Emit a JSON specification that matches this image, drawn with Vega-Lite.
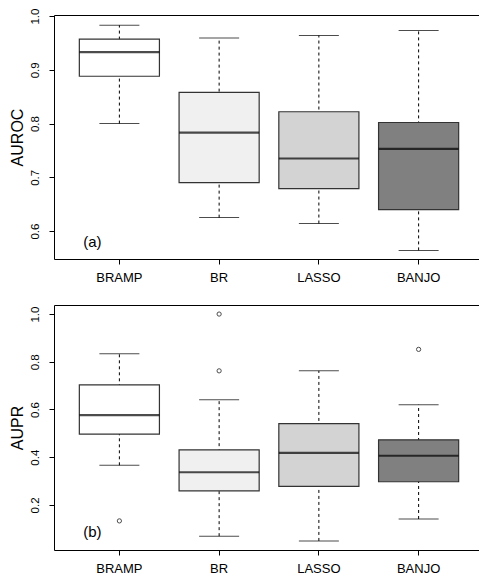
{
  "$schema": "https://vega.github.io/schema/vega-lite/v6.json",
  "padding": {"left": 8, "top": 7, "right": 0, "bottom": 0},
  "background": "white",
  "spacing": 46,
  "bounds": "flush",
  "datasets": {
    "auroc": [
      {"method": "BRAMP", "lower": 0.800, "q1": 0.888, "median": 0.933, "q3": 0.957, "upper": 0.983},
      {"method": "BR", "lower": 0.625, "q1": 0.690, "median": 0.783, "q3": 0.858, "upper": 0.959},
      {"method": "LASSO", "lower": 0.614, "q1": 0.679, "median": 0.735, "q3": 0.822, "upper": 0.964},
      {"method": "BANJO", "lower": 0.564, "q1": 0.640, "median": 0.753, "q3": 0.802, "upper": 0.973}
    ],
    "aupr": [
      {"method": "BRAMP", "lower": 0.366, "q1": 0.497, "median": 0.576, "q3": 0.703, "upper": 0.834},
      {"method": "BR", "lower": 0.069, "q1": 0.259, "median": 0.337, "q3": 0.431, "upper": 0.641},
      {"method": "LASSO", "lower": 0.049, "q1": 0.278, "median": 0.418, "q3": 0.541, "upper": 0.762},
      {"method": "BANJO", "lower": 0.141, "q1": 0.297, "median": 0.406, "q3": 0.473, "upper": 0.620}
    ],
    "auprOut": [
      {"method": "BRAMP", "value": 0.133},
      {"method": "BR", "value": 1.0},
      {"method": "BR", "value": 0.762},
      {"method": "BANJO", "value": 0.852}
    ],
    "labelA": [{"method": "BRAMP", "value": 0.5796, "label": "(a)"}],
    "labelB": [{"method": "BRAMP", "value": 0.0867, "label": "(b)"}]
  },
  "config": {
    "font": "Liberation Sans",
    "view": {"stroke": "black", "strokeWidth": 1},
    "axis": {
      "grid": false,
      "domain": false,
      "tickColor": "black",
      "tickSize": 5,
      "labelColor": "black",
      "titleColor": "black",
      "labelFont": "Liberation Sans",
      "titleFont": "Liberation Sans",
      "titleFontWeight": "normal"
    },
    "axisX": {"labelFontSize": 13, "labelPadding": 7.5, "labelAngle": 0, "title": null},
    "axisY": {"labelFontSize": 11.5, "labelAngle": 270, "labelPadding": 9, "titleFontSize": 16, "titlePadding": 4}
  },
  "vconcat": [
    {
      "width": 430,
      "height": 244,
      "encoding": {
        "x": {"field": "method", "type": "nominal", "sort": ["BRAMP", "BR", "LASSO", "BANJO"],
              "scale": {"paddingInner": 0.197, "paddingOuter": 0.254}, "title": null}
      },
      "layer": [
        {
          "data": {"name": "auroc"},
          "mark": {"type": "rule", "strokeDash": [3, 3], "color": "black", "strokeWidth": 1},
          "encoding": {
            "y": {"field": "lower", "type": "quantitative",
                  "scale": {"domain": [0.548, 1.002], "nice": false, "zero": false},
                  "axis": {"values": [0.6, 0.7, 0.8, 0.9, 1.0], "format": ".1f", "title": "AUROC"}},
            "y2": {"field": "upper"}
          }
        },
        {
          "data": {"name": "auroc"},
          "mark": {"type": "tick", "color": "black", "size": 40, "thickness": 1},
          "encoding": {"y": {"field": "lower", "type": "quantitative"}}
        },
        {
          "data": {"name": "auroc"},
          "mark": {"type": "tick", "color": "black", "size": 40, "thickness": 1},
          "encoding": {"y": {"field": "upper", "type": "quantitative"}}
        },
        {
          "data": {"name": "auroc"},
          "mark": {"type": "bar", "stroke": "#333333", "strokeWidth": 1.2},
          "encoding": {
            "y": {"field": "q1", "type": "quantitative"},
            "y2": {"field": "q3"},
            "fill": {"field": "method", "type": "nominal",
                     "scale": {"domain": ["BRAMP", "BR", "LASSO", "BANJO"], "range": ["#ffffff", "#f0f0f0", "#d3d3d3", "#808080"]},
                     "legend": null}
          }
        },
        {
          "data": {"name": "auroc"},
          "mark": {"type": "tick", "color": "black", "size": 80, "thickness": 2.2},
          "encoding": {"y": {"field": "median", "type": "quantitative"}}
        },
        {
          "data": {"name": "labelA"},
          "mark": {"type": "text", "fontSize": 15, "fontWeight": "normal", "font": "Liberation Sans", "color": "black", "dx": -27},
          "encoding": {
            "y": {"field": "value", "type": "quantitative"},
            "text": {"field": "label"}
          }
        }
      ]
    },
    {
      "width": 430,
      "height": 245,
      "encoding": {
        "x": {"field": "method", "type": "nominal", "sort": ["BRAMP", "BR", "LASSO", "BANJO"],
              "scale": {"paddingInner": 0.197, "paddingOuter": 0.254}, "title": null}
      },
      "layer": [
        {
          "data": {"name": "aupr"},
          "mark": {"type": "rule", "strokeDash": [3, 3], "color": "black", "strokeWidth": 1},
          "encoding": {
            "y": {"field": "lower", "type": "quantitative",
                  "scale": {"domain": [0.011, 1.038], "nice": false, "zero": false},
                  "axis": {"values": [0.2, 0.4, 0.6, 0.8, 1.0], "format": ".1f", "title": "AUPR"}},
            "y2": {"field": "upper"}
          }
        },
        {
          "data": {"name": "aupr"},
          "mark": {"type": "tick", "color": "black", "size": 40, "thickness": 1},
          "encoding": {"y": {"field": "lower", "type": "quantitative"}}
        },
        {
          "data": {"name": "aupr"},
          "mark": {"type": "tick", "color": "black", "size": 40, "thickness": 1},
          "encoding": {"y": {"field": "upper", "type": "quantitative"}}
        },
        {
          "data": {"name": "aupr"},
          "mark": {"type": "bar", "stroke": "#333333", "strokeWidth": 1.2},
          "encoding": {
            "y": {"field": "q1", "type": "quantitative"},
            "y2": {"field": "q3"},
            "fill": {"field": "method", "type": "nominal",
                     "scale": {"domain": ["BRAMP", "BR", "LASSO", "BANJO"], "range": ["#ffffff", "#f0f0f0", "#d3d3d3", "#808080"]},
                     "legend": null}
          }
        },
        {
          "data": {"name": "aupr"},
          "mark": {"type": "tick", "color": "black", "size": 80, "thickness": 2.2},
          "encoding": {"y": {"field": "median", "type": "quantitative"}}
        },
        {
          "data": {"name": "auprOut"},
          "mark": {"type": "point", "shape": "circle", "filled": false, "color": "black", "size": 18, "strokeWidth": 1},
          "encoding": {"y": {"field": "value", "type": "quantitative"}}
        },
        {
          "data": {"name": "labelB"},
          "mark": {"type": "text", "fontSize": 15, "fontWeight": "normal", "font": "Liberation Sans", "color": "black", "dx": -27},
          "encoding": {
            "y": {"field": "value", "type": "quantitative"},
            "text": {"field": "label"}
          }
        }
      ]
    }
  ]
}
